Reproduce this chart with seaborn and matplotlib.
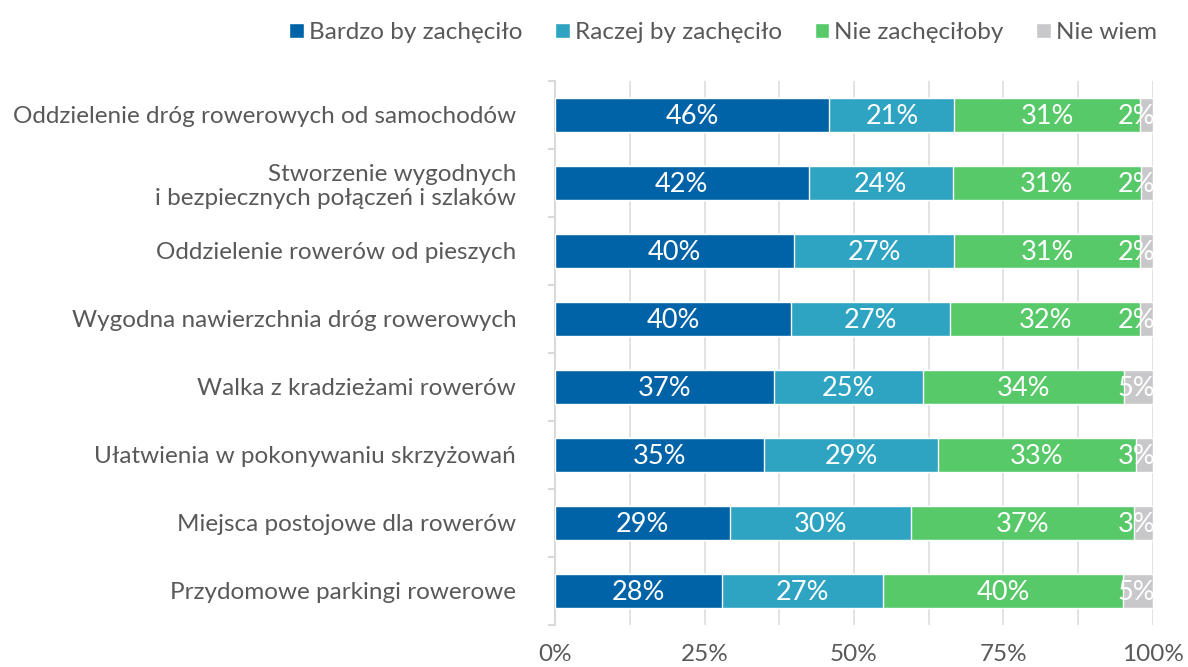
import matplotlib

matplotlib.use("Agg")

import numpy as np
import pandas as pd
import matplotlib.pyplot as plt
from matplotlib.ticker import MultipleLocator, FixedLocator, PercentFormatter
import seaborn as sns

# Data (shares in %)
categories = [
    "Oddzielenie dróg rowerowych od samochodów",
    "Stworzenie wygodnych\ni bezpiecznych połączeń i szlaków",
    "Oddzielenie rowerów od pieszych",
    "Wygodna nawierzchnia dróg rowerowych",
    "Walka z kradzieżami rowerów",
    "Ułatwienia w pokonywaniu skrzyżowań",
    "Miejsca postojowe dla rowerów",
    "Przydomowe parkingi rowerowe",
]
series_names = ["Bardzo by zachęciło", "Raczej by zachęciło", "Nie zachęciłoby", "Nie wiem"]
bardzo = [45.9, 42.4, 39.9, 39.5, 36.7, 35.0, 29.2, 27.9]
raczej = [20.9, 24.1, 26.9, 26.6, 24.8, 29.0, 30.3, 27.0]
nie = [31.1, 31.5, 31.1, 31.8, 33.6, 33.1, 37.4, 40.1]
nie_wiem = [2.1, 2.0, 2.1, 2.1, 4.9, 2.9, 3.1, 5.0]
labels = [
    ["46%", "42%", "40%", "40%", "37%", "35%", "29%", "28%"],
    ["21%", "24%", "27%", "27%", "25%", "29%", "30%", "27%"],
    ["31%", "31%", "31%", "32%", "34%", "33%", "37%", "40%"],
    ["2%", "2%", "2%", "2%", "5%", "3%", "3%", "5%"],
]
colors = ["#0063A8", "#2EA4C2", "#57C968", "#C8C8CA"]
TEXT = "#595959"

df = pd.DataFrame(
    {"category": categories, series_names[0]: bardzo, series_names[1]: raczej,
     series_names[2]: nie, series_names[3]: nie_wiem}
)
values = df[series_names].to_numpy()
cum = values.cumsum(axis=1)

sns.set_theme(style="white")
plt.rcParams["font.family"] = ["Lato", "DejaVu Sans"]

fig, ax = plt.subplots(figsize=(11.88, 6.67), dpi=100)
fig.subplots_adjust(left=0.4672, right=0.9705, top=0.8786, bottom=0.063)

# Stacked bars: draw cumulative totals from last to first
for i in range(len(series_names) - 1, -1, -1):
    plot_df = pd.DataFrame({"category": categories, "value": cum[:, i]})
    sns.barplot(
        data=plot_df, x="value", y="category", orient="h",
        color=colors[i], width=0.51, saturation=1, ax=ax,
        label=series_names[i], zorder=3,
    )
handles, hlabels = ax.get_legend_handles_labels()
if ax.get_legend() is not None:
    ax.get_legend().remove()

# Segment labels (kept inside the plot area at the right edge)
for i in range(len(series_names)):
    for j in range(len(categories)):
        left = cum[j, i] - values[j, i]
        xc = min(left + values[j, i] / 2, 97.2)
        ax.text(xc, j + 0.02, labels[i][j], ha="center", va="center",
                color="white", fontsize=19.5, zorder=4)

ax.set_xlim(0, 100)
ax.set_ylim(len(categories) - 0.5, -0.5)
ax.xaxis.set_major_locator(MultipleLocator(25))
ax.xaxis.set_minor_locator(MultipleLocator(12.5))
ax.xaxis.set_major_formatter(PercentFormatter(decimals=0))
ax.grid(True, axis="x", which="both", color="#DDDDDD", linewidth=1.2, zorder=0)
ax.set_axisbelow(True)

for s in ["top", "right", "bottom"]:
    ax.spines[s].set_visible(False)
ax.spines["left"].set_color("#D9D9D9")
ax.spines["left"].set_linewidth(1.5)

ax.yaxis.set_minor_locator(FixedLocator(np.arange(-0.5, len(categories), 1)))
ax.tick_params(axis="y", which="major", length=0, pad=28, labelsize=17.5, labelcolor=TEXT)
ax.tick_params(axis="y", which="minor", length=5, width=1.5, color="#D9D9D9", left=True)
ax.tick_params(axis="x", which="both", length=0, pad=14, labelsize=17.5, labelcolor=TEXT)
ax.set_xlabel("")
ax.set_ylabel("")

order = [hlabels.index(n) for n in series_names]
fig.legend(
    [handles[k] for k in order], [hlabels[k] for k in order],
    loc="upper right", bbox_to_anchor=(0.992, 1.0), ncol=4, frameon=False,
    fontsize=17.5, labelcolor=TEXT, handlelength=0.6, handleheight=0.6,
    handletextpad=0.2, columnspacing=1.35,
)

fig.savefig("out.png", dpi=100, facecolor="white")
